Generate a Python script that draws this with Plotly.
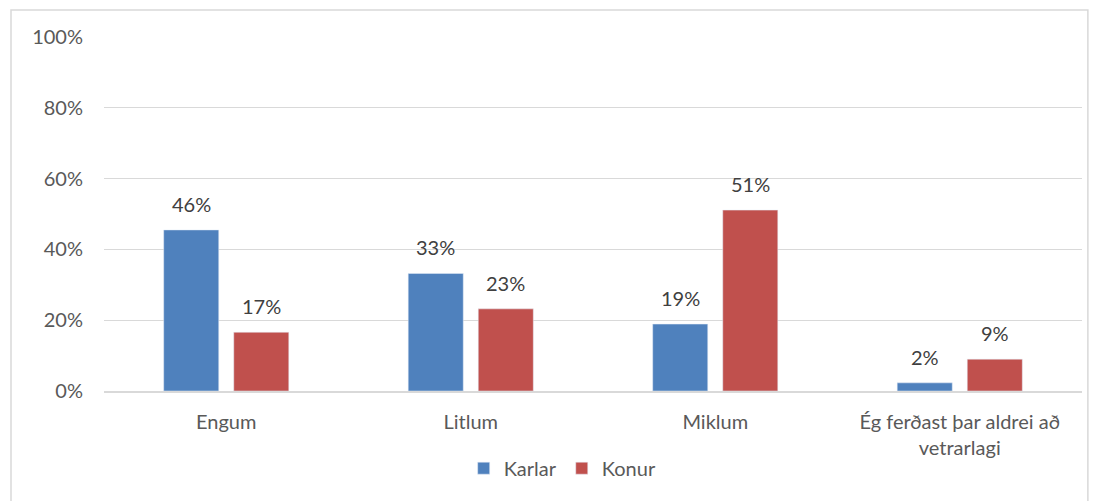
import plotly.graph_objects as go

categories = ["Engum", "Litlum", "Miklum", "Ég ferðast þar aldrei að<br>vetrarlagi"]
karlar = [45.5, 33.2, 18.9, 2.3]
konur = [16.6, 23.2, 51.1, 9.0]
karlar_labels = ["46%", "33%", "19%", "2%"]
konur_labels = ["17%", "23%", "51%", "9%"]
yticks = [0, 20, 40, 60, 80, 100]
ytick_text = ["0%", "20%", "40%", "60%", "80%", "100%"]

FONT = "Lato, Calibri, Carlito, sans-serif"
TXT = "#595959"
FS = 20

fig = go.Figure()
fig.add_trace(go.Bar(name="Karlar", x=categories, y=karlar, marker_color="#4F81BD"))
fig.add_trace(go.Bar(name="Konur", x=categories, y=konur, marker_color="#C0504D"))

annotations = []
for series, labels, shift in ((karlar, karlar_labels, -35), (konur, konur_labels, 35)):
    for c, v, t in zip(categories, series, labels):
        annotations.append(dict(x=c, y=v, text=t, xref="x", yref="y", showarrow=False,
                                xshift=shift, yshift=26, yanchor="middle",
                                font=dict(size=FS, color="#404040", family=FONT)))

fig.update_layout(
    width=1091, height=493,
    margin=dict(l=96, r=17, t=29, b=110),
    paper_bgcolor="white", plot_bgcolor="white",
    barmode="group", bargap=0.427, bargroupgap=0.214,
    font=dict(family=FONT, size=FS, color=TXT),
    legend=dict(orientation="h", x=0.469, xanchor="center", y=-0.218, yanchor="middle",
                font=dict(size=FS, color=TXT), itemwidth=30, traceorder="normal"),
    xaxis=dict(tickfont=dict(size=FS, color=TXT), showline=True, linecolor="#D9D9D9",
               linewidth=1.5, ticks="", showgrid=False, automargin=False,
               ticklabelstandoff=12),
    yaxis=dict(range=[0, 100], tickvals=yticks, ticktext=ytick_text,
               tickfont=dict(size=FS, color=TXT), gridcolor="#D9D9D9", gridwidth=1.3,
               zeroline=False, ticks="", ticklabelstandoff=20, automargin=False),
    annotations=annotations,
    shapes=[dict(type="rect", xref="paper", yref="paper",
                 x0=-0.0951, x1=1.006, y0=-0.35, y1=1.076,
                 line=dict(color="#D9D9D9", width=1.5))],
)
fig.write_html("out.html")
